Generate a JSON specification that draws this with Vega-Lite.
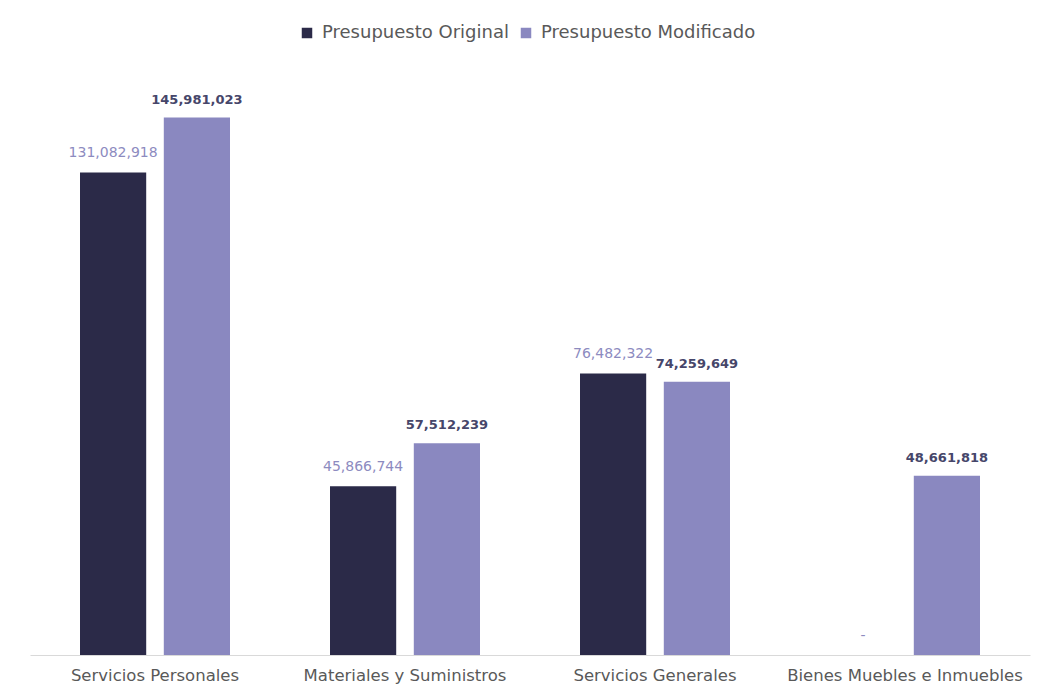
{
  "$schema": "https://vega.github.io/schema/vega-lite/v6.json",
  "width": 1000,
  "height": 589,
  "autosize": {"type": "none"},
  "padding": {"left": 30, "top": 66, "right": 9, "bottom": 41},
  "background": "white",
  "config": {
    "view": {"stroke": null},
    "font": "DejaVu Sans"
  },
  "data": {
    "values": [
      {"capitulo": "Servicios Personales", "serie": "Presupuesto Original", "monto": 131082918},
      {"capitulo": "Servicios Personales", "serie": "Presupuesto Modificado", "monto": 145981023},
      {"capitulo": "Materiales y Suministros", "serie": "Presupuesto Original", "monto": 45866744},
      {"capitulo": "Materiales y Suministros", "serie": "Presupuesto Modificado", "monto": 57512239},
      {"capitulo": "Servicios Generales", "serie": "Presupuesto Original", "monto": 76482322},
      {"capitulo": "Servicios Generales", "serie": "Presupuesto Modificado", "monto": 74259649},
      {"capitulo": "Bienes Muebles e Inmuebles", "serie": "Presupuesto Original", "monto": 0},
      {"capitulo": "Bienes Muebles e Inmuebles", "serie": "Presupuesto Modificado", "monto": 48661818}
    ]
  },
  "encoding": {
    "x": {
      "field": "capitulo",
      "type": "nominal",
      "sort": null,
      "scale": {"paddingInner": 0.4, "paddingOuter": 0.2},
      "axis": {
        "title": null,
        "labelAngle": 0,
        "ticks": false,
        "domainColor": "#d9d9d9",
        "domainWidth": 1,
        "labelFontSize": 16.5,
        "labelColor": "#595959",
        "labelPadding": 12,
        "labelLimit": 0
      }
    },
    "xOffset": {
      "field": "serie",
      "type": "nominal",
      "sort": ["Presupuesto Original", "Presupuesto Modificado"],
      "scale": {"paddingInner": 0.21, "paddingOuter": 0}
    },
    "y": {
      "field": "monto",
      "type": "quantitative",
      "scale": {"domain": [0, 160000000], "nice": false},
      "axis": null
    }
  },
  "layer": [
    {
      "mark": {"type": "bar"},
      "encoding": {
        "color": {
          "field": "serie",
          "type": "nominal",
          "sort": ["Presupuesto Original", "Presupuesto Modificado"],
          "scale": {"domain": ["Presupuesto Original", "Presupuesto Modificado"], "range": ["#2b2a48", "#8a88c0"]},
          "legend": {
            "title": null,
            "orient": "none",
            "direction": "horizontal",
            "legendX": 268,
            "legendY": -42,
            "symbolType": "square",
            "symbolSize": 110,
            "symbolStrokeWidth": 0,
            "labelFontSize": 18,
            "labelColor": "#595959",
            "labelLimit": 0,
            "columnPadding": 8,
            "labelOffset": 6
          }
        }
      }
    },
    {
      "transform": [{"filter": "datum.serie === 'Presupuesto Original'"}],
      "mark": {"type": "text", "baseline": "alphabetic", "dy": -15, "fontSize": 14, "color": "#8d8bbf"},
      "encoding": {
        "text": {"condition": {"test": "datum.monto === 0", "value": "-"}, "field": "monto", "type": "quantitative", "format": ","}
      }
    },
    {
      "transform": [{"filter": "datum.serie === 'Presupuesto Modificado'"}],
      "mark": {"type": "text", "baseline": "alphabetic", "dy": -14, "fontSize": 13, "fontWeight": "bold", "color": "#46466a"},
      "encoding": {
        "text": {"field": "monto", "type": "quantitative", "format": ","}
      }
    }
  ]
}
